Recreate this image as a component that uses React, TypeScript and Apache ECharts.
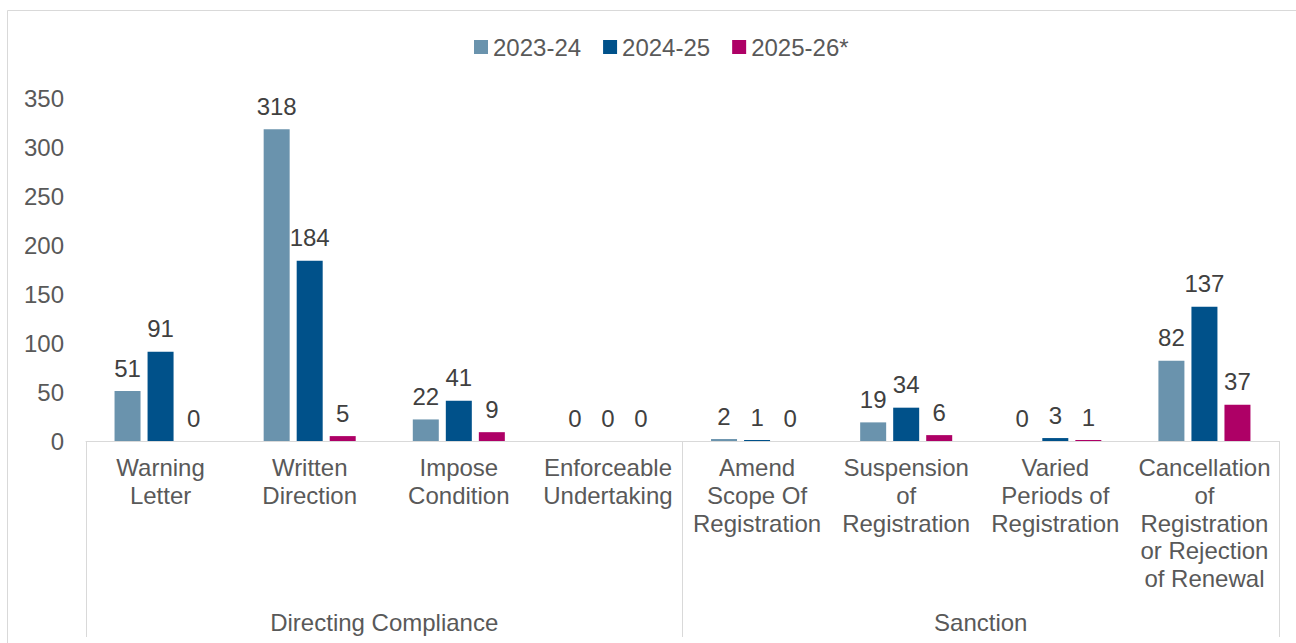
import React, { useEffect, useRef } from "react";
import * as echarts from "echarts";

const categories = [
  "Warning\nLetter",
  "Written\nDirection",
  "Impose\nCondition",
  "Enforceable\nUndertaking",
  "Amend\nScope Of\nRegistration",
  "Suspension\nof\nRegistration",
  "Varied\nPeriods of\nRegistration",
  "Cancellation\nof\nRegistration\nor Rejection\nof Renewal",
];
const groups = ["Directing Compliance", "Sanction"];
const seriesNames = ["2023-24", "2024-25", "2025-26*"];
const values2324 = [51, 318, 22, 0, 2, 19, 0, 82];
const values2425 = [91, 184, 41, 0, 1, 34, 3, 137];
const values2526 = [0, 5, 9, 0, 0, 6, 1, 37];
const colors = ["#6A93AD", "#00518A", "#AE0066"];

const textColor = "#595959";
const font = "'Liberation Sans', Arial, sans-serif";
const fs = 24;

export default function App() {
  const ref = useRef<HTMLDivElement>(null);
  useEffect(() => {
    if (!ref.current) return;
    const chart = echarts.init(ref.current, undefined, { renderer: "svg" });
    const data = [values2324, values2425, values2526];
    chart.setOption({
      animation: false,
      textStyle: { fontFamily: font },
      graphic: [
        {
          type: "rect",
          shape: { x: 7.5, y: 10.5, width: 1300, height: 700 },
          style: { fill: "none", stroke: "#D9D9D9", lineWidth: 1 },
          silent: true,
        },
      ],
      legend: {
        top: 30,
        left: 469,
        itemWidth: 14,
        itemHeight: 14,
        itemGap: 22,
        icon: "rect",
        textStyle: { fontSize: fs, color: textColor, fontFamily: font },
        data: seriesNames,
      },
      grid: { left: 86, right: 17, top: 98, bottom: 202 },
      xAxis: [
        {
          type: "category",
          data: categories,
          axisLine: { show: true, lineStyle: { color: "#D9D9D9", width: 1 } },
          axisTick: { show: false },
          axisLabel: {
            interval: 0,
            fontSize: fs,
            color: textColor,
            lineHeight: 27.7,
            margin: 13,
            fontFamily: font,
          },
        },
        {
          type: "category",
          data: groups,
          position: "bottom",
          axisLine: { show: false },
          axisTick: {
            show: true,
            length: 196,
            inside: false,
            lineStyle: { color: "#D9D9D9", width: 1 },
          },
          axisLabel: {
            interval: 0,
            fontSize: fs,
            color: textColor,
            lineHeight: 28,
            margin: 167,
            fontFamily: font,
          },
        },
      ],
      yAxis: {
        type: "value",
        min: 0,
        max: 350,
        interval: 50,
        splitLine: { show: false },
        axisLine: { show: false },
        axisTick: { show: false },
        axisLabel: { fontSize: fs, color: textColor, margin: 22, fontFamily: font },
      },
      series: seriesNames.map((name, i) => ({
        name,
        type: "bar",
        xAxisIndex: 0,
        data: data[i],
        barWidth: 26,
        barGap: "27%",
        itemStyle: { color: colors[i] },
        label: {
          show: true,
          position: "top",
          distance: 11,
          fontSize: fs,
          color: "#404040",
          fontFamily: font,
        },
      })),
    });
    return () => chart.dispose();
  }, []);
  return (
    <div
      ref={ref}
      style={{ position: "absolute", left: 0, top: 0, width: 1296, height: 643, background: "#fff" }}
    />
  );
}
